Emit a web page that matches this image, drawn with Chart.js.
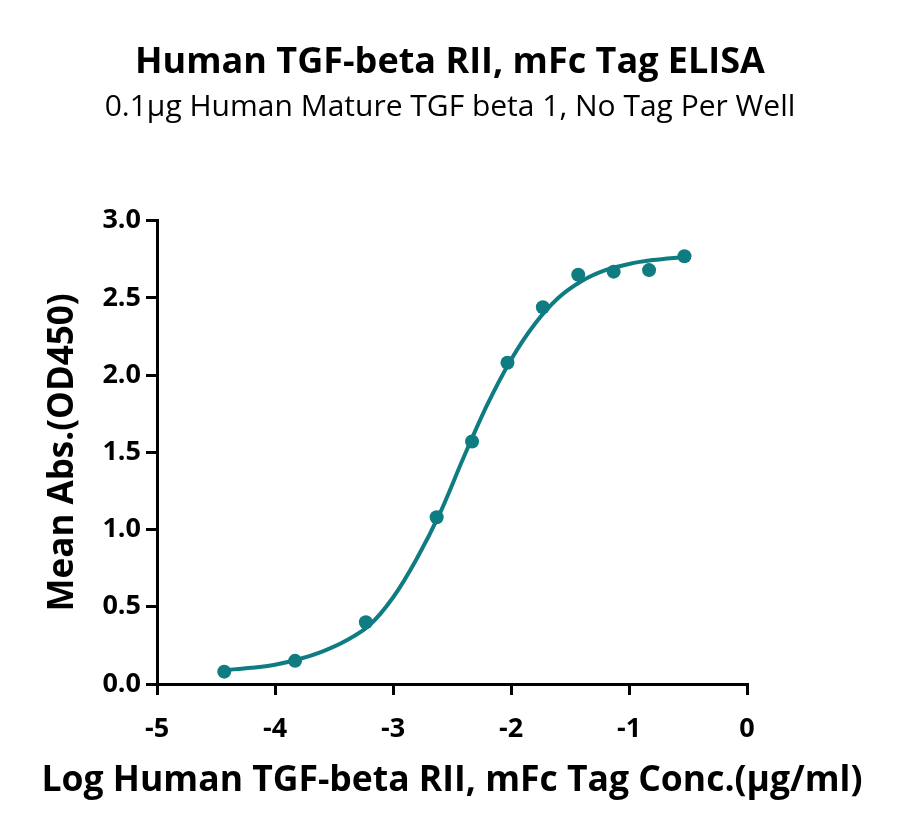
<!DOCTYPE html>
<html>
<head>
<meta charset="utf-8">
<title>Human TGF-beta RII, mFc Tag ELISA</title>
<script src="https://cdn.jsdelivr.net/npm/chart.js@4.4.1/dist/chart.umd.min.js"></script>
<style>
  body { margin: 0; background: #fff; }
  #elisaChart { display: block; }
</style>
</head>
<body>
<canvas id="elisaChart" width="900" height="837"></canvas>
<script>
// ELISA curve

// measured points (log conc in ug/ml)
const logConc = [-4.43, -3.83, -3.23, -2.63, -2.33, -2.03, -1.73, -1.43, -1.13, -0.83, -0.53];
const meanAbs = [0.08, 0.15, 0.40, 1.08, 1.57, 2.08, 2.44, 2.65, 2.67, 2.68, 2.77];

// fitted curve
const fitX = [-4.43, -4.2, -4.0, -3.8, -3.6, -3.4, -3.2, -3.0, -2.8, -2.6, -2.4, -2.2, -2.0, -1.8, -1.6, -1.4, -1.2, -1.0, -0.8, -0.53];
const fitY = [0.09, 0.105, 0.125, 0.16, 0.21, 0.28, 0.38, 0.56, 0.81, 1.11, 1.47, 1.81, 2.10, 2.33, 2.50, 2.61, 2.68, 2.72, 2.745, 2.765];

// axis ticks
const xTicks = [-5, -4, -3, -2, -1, 0];
const xTickLabels = ["-5", "-4", "-3", "-2", "-1", "0"];
const yTicks = [0, 0.5, 1.0, 1.5, 2.0, 2.5, 3.0];
const yTickLabels = ["0.0", "0.5", "1.0", "1.5", "2.0", "2.5", "3.0"];

const teal = "#0e7c81";
const FONT = "'Open Sans', 'Noto Sans', sans-serif";

const points = logConc.map((x, i) => ({ x: x, y: meanAbs[i] }));
const curve = fitX.map((x, i) => ({ x: x, y: fitY[i] }));

function setTicks(values) {
  return (scale) => {
    scale.ticks = values.map(v => ({ value: v }));
  };
}

// x axis title drawn by hand: the scale title gets squeezed to the plot width
const xTitle = {
  id: "xTitle",
  afterDraw(chart, args, opts) {
    const { ctx, chartArea } = chart;
    ctx.save();
    ctx.font = "bold " + opts.size + "px " + FONT;
    ctx.fillStyle = "#000";
    ctx.textAlign = "center";
    ctx.textBaseline = "alphabetic";
    ctx.fillText(opts.text, (chartArea.left + chartArea.right) / 2, chartArea.bottom + opts.offset);
    ctx.restore();
  },
};

new Chart(document.getElementById("elisaChart"), {
  type: "scatter",
  data: {
    datasets: [
      {
        label: "Fit",
        data: curve,
        showLine: true,
        borderColor: teal,
        borderWidth: 4,
        pointRadius: 0,
        cubicInterpolationMode: "monotone",
        fill: false,
      },
      {
        label: "Mean Abs.",
        data: points,
        backgroundColor: teal,
        borderColor: teal,
        pointRadius: 7,
        pointBorderWidth: 0,
      },
    ],
  },
  plugins: [xTitle],
  options: {
    responsive: false,
    animation: false,
    plugins: {
      legend: { display: false },
      tooltip: { enabled: false },
      title: {
        display: true,
        text: "Human TGF-beta RII, mFc Tag ELISA",
        color: "#000",
        font: { family: FONT, size: 36, weight: "bold" },
        padding: { top: 41.5, bottom: 0 },
      },
      subtitle: {
        display: true,
        text: "0.1μg Human Mature TGF beta 1, No Tag Per Well",
        color: "#000",
        font: { family: FONT, size: 30, weight: "normal" },
        padding: { top: 5, bottom: 95 },
      },
      xTitle: {
        text: "Log Human TGF-beta RII, mFc Tag Conc.(μg/ml)",
        size: 35.5,
        offset: 107,
      },
    },
    scales: {
      x: {
        type: "linear",
        min: -5,
        max: 0,
        afterBuildTicks: setTicks(xTicks),
        afterFit: (scale) => { scale.height = 153; },
        grid: { drawOnChartArea: false, drawTicks: true, tickLength: 11, color: "#000", lineWidth: 3 },
        border: { display: true, color: "#000", width: 3 },
        ticks: {
          color: "#000",
          padding: 18,
          font: { family: FONT, size: 27, weight: "bold" },
          callback: (v, i) => xTickLabels[i],
        },
      },
      y: {
        type: "linear",
        min: 0,
        max: 3,
        afterBuildTicks: setTicks(yTicks),
        afterFit: (scale) => { scale.width = 157; },
        grid: { drawOnChartArea: false, drawTicks: true, tickLength: 11, color: "#000", lineWidth: 3 },
        border: { display: true, color: "#000", width: 3 },
        ticks: {
          color: "#000",
          padding: 5,
          font: { family: FONT, size: 27, weight: "bold" },
          callback: (v, i) => yTickLabels[i],
        },
        title: {
          display: true,
          text: "Mean Abs.(OD450)",
          color: "#000",
          font: { family: FONT, size: 35, weight: "bold" },
          padding: { top: 42, bottom: 0 },
        },
      },
      // empty right-hand axis, only reserves the blank margin
      yPad: {
        type: "linear",
        position: "right",
        min: 0,
        max: 1,
        afterFit: (scale) => { scale.width = 153; },
        grid: { display: false },
        border: { display: false },
        ticks: { display: false },
      },
    },
  },
});
</script>
</body>
</html>
